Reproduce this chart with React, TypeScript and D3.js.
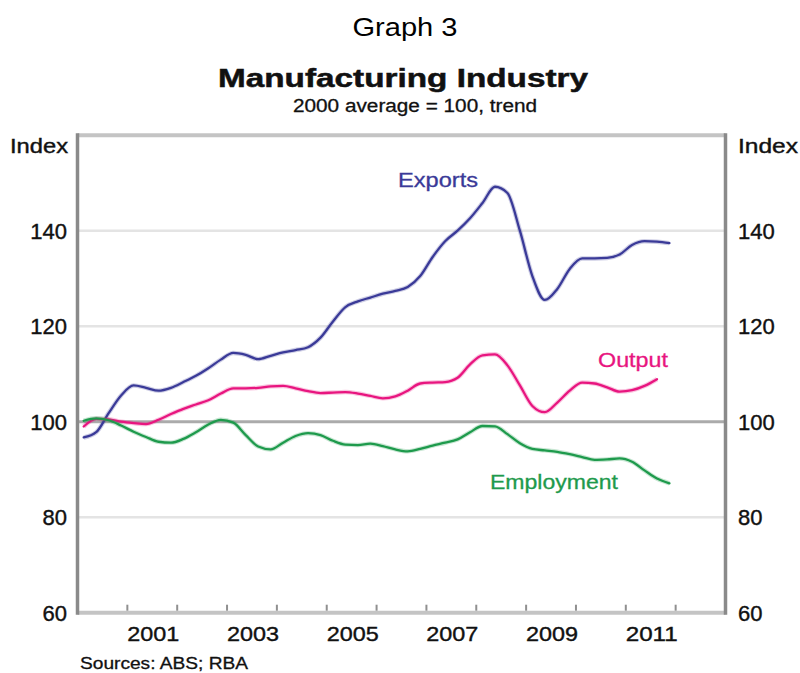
import React from "react";
import * as d3 from "d3";

// Quarterly observations (mid-quarter), 2000 Q1 onward
const startYear = 2000.125;
const exportsIdx = [
  96.7, 97.8, 101.8, 105.5, 107.6, 107.1, 106.5, 107.1, 108.3, 109.6, 111.2, 113.0,
  114.4, 114.0, 113.1, 113.8, 114.5, 115.0, 115.6, 117.6, 121.0, 124.0, 125.2, 126.0,
  126.8, 127.4, 128.2, 130.5, 134.5, 137.8, 140.0, 142.6, 145.8, 149.2, 147.9, 140.0,
  130.5, 125.5, 127.8, 132.0, 134.2, 134.2, 134.3, 135.0, 137.0, 137.8, 137.7, 137.4,
];
const outputIdx = [
  99.0, 100.6, 100.5, 100.0, 99.7, 99.5, 100.4, 101.6, 102.7, 103.6, 104.5, 105.9,
  107.0, 107.0, 107.1, 107.4, 107.5, 107.0, 106.4, 106.0, 106.1, 106.2, 105.9, 105.4,
  104.9, 105.3, 106.5, 108.0, 108.2, 108.3, 109.2, 112.0, 113.9, 114.1, 111.8, 107.6,
  103.3, 102.0, 104.0, 106.5, 108.2, 108.0, 107.2, 106.3, 106.6, 107.5, 108.9,
];
const employmentIdx = [
  100.2, 100.7, 100.3, 99.2, 97.9, 96.8, 95.8, 95.6, 96.4, 97.8, 99.4, 100.4,
  99.8, 97.2, 94.8, 94.2, 95.6, 97.0, 97.6, 97.2, 96.0, 95.2, 95.1, 95.4,
  94.9, 94.2, 93.8, 94.3, 95.0, 95.6, 96.3, 97.8, 99.1, 99.0, 97.4, 95.5,
  94.3, 94.0, 93.7, 93.2, 92.6, 92.0, 92.1, 92.3, 91.6, 89.8, 88.1, 87.1,
];
const yTicks = [60, 80, 100, 120, 140];
const yearTicks = [2001, 2002, 2003, 2004, 2005, 2006, 2007, 2008, 2009, 2010, 2011, 2012];
const yearLabels = [2001, 2003, 2005, 2007, 2009, 2011];

const FONT = "Arial, 'Liberation Sans', Helvetica, sans-serif";
const C_EXP = "#3a3a98";
const C_OUT = "#e8157f";
const C_EMP = "#1e9a4c";

export default function App() {
  const x = d3.scaleLinear().domain([2000, 2013]).range([77.5, 725.5]);
  const y = d3.scaleLinear().domain([60, 160]).range([612.7, 135.2]);

  const toPts = (arr: number[]) => arr.map((v, i) => [startYear + i * 0.25, v] as [number, number]);
  const line = d3
    .line<[number, number]>()
    .x((d) => x(d[0]))
    .y((d) => y(d[1]))
    .curve(d3.curveMonotoneX);

  const series = [
    { data: exportsIdx, color: C_EXP },
    { data: outputIdx, color: C_OUT },
    { data: employmentIdx, color: C_EMP },
  ];

  const [x0, x1] = x.range();
  const yb = y(60);
  const yt = y(160);

  return (
    <svg
      width={800}
      height={673}
      style={{ position: "absolute", left: 0, top: 0, display: "block", background: "#fff" }}
      fontFamily={FONT}
    >
      {/* titles */}
      <text x={405} y={36} textAnchor="middle" fontSize={25} textLength={105} lengthAdjust="spacingAndGlyphs" fill="#000">
        Graph 3
      </text>
      <text x={403} y={87} textAnchor="middle" fontSize={26} fontWeight="bold" textLength={370} lengthAdjust="spacingAndGlyphs" fill="#111" stroke="#111" strokeWidth={0.5}>
        Manufacturing Industry
      </text>
      <text x={415} y={112} textAnchor="middle" fontSize={18} textLength={244} lengthAdjust="spacingAndGlyphs" fill="#111" stroke="#111" strokeWidth={0.3}>
        2000 average = 100, trend
      </text>

      {/* gridlines */}
      {yTicks.filter((t) => t !== 60 && t !== 100).map((t) => (
        <line key={"g" + t} x1={x0} x2={x1} y1={y(t)} y2={y(t)} stroke="#e4e4e4" strokeWidth={2.5} />
      ))}
      <line x1={x0} x2={x1} y1={y(100)} y2={y(100)} stroke="#ababab" strokeWidth={3} />

      {/* frame */}
      <line x1={x0} x2={x1} y1={yt} y2={yt} stroke="#c4c4c4" strokeWidth={4} />
      <line x1={x0} x2={x1} y1={yb} y2={yb} stroke="#c4c4c4" strokeWidth={4} />
      <line x1={x0} x2={x0} y1={yt - 2} y2={yb + 2} stroke="#8a8a8a" strokeWidth={3.5} />
      <line x1={x1} x2={x1} y1={yt - 2} y2={yb + 2} stroke="#8a8a8a" strokeWidth={3.5} />

      {/* x ticks */}
      {yearTicks.map((t) => (
        <line key={"xt" + t} x1={x(t)} x2={x(t)} y1={yb - 2} y2={yb - 8} stroke="#8f8f8f" strokeWidth={2} />
      ))}
      {yearLabels.map((t) => (
        <text key={"xl" + t} x={x(t + 0.5) + 1} y={641} textAnchor="middle" fontSize={21} textLength={52} lengthAdjust="spacingAndGlyphs" fill="#111" stroke="#111" strokeWidth={0.4}>
          {t}
        </text>
      ))}

      {/* y labels */}
      {yTicks.map((t) => (
        <g key={"yl" + t}>
          <text x={67} y={y(t) + 8} textAnchor="end" fontSize={22} fill="#111" stroke="#111" strokeWidth={0.4}>
            {t}
          </text>
          <text x={738} y={y(t) + 8} textAnchor="start" fontSize={22} fill="#111" stroke="#111" strokeWidth={0.4}>
            {t}
          </text>
        </g>
      ))}
      <text x={10} y={153} fontSize={20} textLength={58} lengthAdjust="spacingAndGlyphs" fill="#111" stroke="#111" strokeWidth={0.4}>
        Index
      </text>
      <text x={738} y={153} fontSize={20} textLength={60} lengthAdjust="spacingAndGlyphs" fill="#111" stroke="#111" strokeWidth={0.4}>
        Index
      </text>

      {/* series */}
      {series.map((s, i) => (
        <g key={"s" + i}>
          <path d={line(toPts(s.data)) || ""} fill="none" stroke={s.color} strokeOpacity={0.25} strokeWidth={4.5} strokeLinejoin="round" />
          <path d={line(toPts(s.data)) || ""} fill="none" stroke={s.color} strokeWidth={2.3} strokeLinejoin="round" strokeLinecap="round" />
        </g>
      ))}

      {/* series labels */}
      <text x={398} y={187} fontSize={20} textLength={80} lengthAdjust="spacingAndGlyphs" fill={C_EXP} stroke={C_EXP} strokeWidth={0.3}>
        Exports
      </text>
      <text x={598} y={367} fontSize={20} textLength={70} lengthAdjust="spacingAndGlyphs" fill={C_OUT} stroke={C_OUT} strokeWidth={0.3}>
        Output
      </text>
      <text x={490} y={489} fontSize={20} textLength={128} lengthAdjust="spacingAndGlyphs" fill={C_EMP} stroke={C_EMP} strokeWidth={0.3}>
        Employment
      </text>

      <text x={80} y={669} fontSize={16} textLength={168} lengthAdjust="spacingAndGlyphs" fill="#111" stroke="#111" strokeWidth={0.3}>
        Sources: ABS; RBA
      </text>
    </svg>
  );
}
